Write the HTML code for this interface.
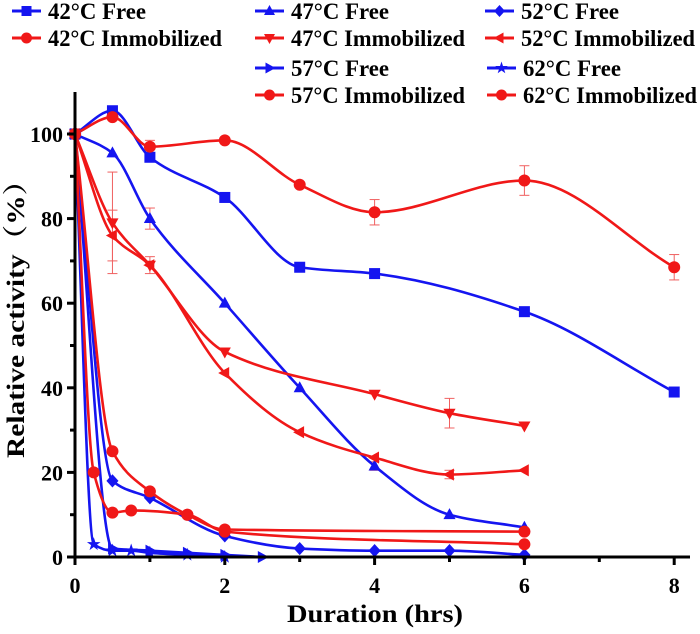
<!DOCTYPE html>
<html><head><meta charset="utf-8"><style>
body{margin:0;background:#fff}
svg{display:block}
text{font-family:"Liberation Serif","Noto Serif CJK SC",serif;font-weight:bold}
</style></head><body>
<svg id="c" width="700" height="634" viewBox="0 0 700 634"></svg>
<script>
const xTicks=[0,2,4,6,8];
const yTicks=[0,20,40,60,80,100];
const x42=[0,0.5,1,2,3,4,6,8];
const f42=[100,105.5,94.5,85,68.5,67,58,39];
const i42=[100,104,97,98.5,88,81.5,89,68.5];
const x47f=[0,0.5,1,2,3,4,5,6];
const f47=[100,95.5,80,60,40,21.5,10,7];
const x47i=[0,0.5,1,2,4,5,6];
const i47=[100,79,69,48.5,38.5,34,31];
const x52=[0,0.5,1,2,3,4,5,6];
const f52=[100,18,14,5,2,1.5,1.5,0.5];
const i52=[100,76,69,43.5,29.5,23.5,19.5,20.5];
const x57f=[0,0.5,1,1.5,2,2.5];
const f57=[100,2,1.5,1,0.5,0];
const x57i=[0,0.5,1,1.5,2,6];
const i57=[100,25,15.5,10,6.5,6];
const x62f=[0,0.25,0.5,0.75,1,1.5,2];
const f62=[100,3,1.5,1.5,1,0.5,0];
const x62i=[0,0.25,0.5,0.75,1.5,2,6];
const i62=[100,20,10.5,11,10,6,3];
const NS="http://www.w3.org/2000/svg";
const svg=document.getElementById('c');
const X=v=>75+v*74.9, Y=v=>557-v*4.23;
function el(t,a,p){const e=document.createElementNS(NS,t);for(const k in a)e.setAttribute(k,a[k]);(p||svg).appendChild(e);return e;}
function spline(xs,ys){const P=xs.map((x,i)=>[X(x),Y(ys[i])]);const n=P.length;
const d=[],m=[];for(let i=0;i<n-1;i++)d.push((P[i+1][1]-P[i][1])/(P[i+1][0]-P[i][0]));
for(let i=0;i<n;i++){if(i===0)m.push(d[0]);else if(i===n-1)m.push(d[n-2]);else if(d[i-1]*d[i]<=0)m.push(0);else{const h0=P[i][0]-P[i-1][0],h1=P[i+1][0]-P[i][0];m.push(3*(h0+h1)/((2*h1+h0)/d[i-1]+(h1+2*h0)/d[i]));}}
let s=`M${P[0][0]},${P[0][1]}`;
for(let i=0;i<n-1;i++){const h=(P[i+1][0]-P[i][0])/3;s+=` C${P[i][0]+h},${P[i][1]+m[i]*h} ${P[i+1][0]-h},${P[i+1][1]-m[i+1]*h} ${P[i+1][0]},${P[i+1][1]}`;}return s;}
function marker(g,type,cx,cy,col,s){s=s||6;let pts;
if(type==='sq'){el('rect',{x:cx-s,y:cy-s,width:2*s,height:2*s,fill:col},g);return;}
if(type==='ci'){el('circle',{cx,cy,r:s+0.5,fill:col},g);return;}
const m={up:[[0,-1.2],[1.1,0.8],[-1.1,0.8]],dn:[[0,1.2],[1.1,-0.8],[-1.1,-0.8]],dia:[[0,-1.2],[1.1,0],[0,1.2],[-1.1,0]],lt:[[-1.2,0],[0.8,-1.1],[0.8,1.1]],rt:[[1.2,0],[-0.8,-1.1],[-0.8,1.1]]};
if(type==='st'){pts=[];for(let k=0;k<10;k++){const r=k%2?0.5*s:1.3*s,a=-Math.PI/2+k*Math.PI/5;pts.push([cx+r*Math.cos(a),cy+r*Math.sin(a)]);}}
else pts=m[type].map(p=>[cx+p[0]*s,cy+p[1]*s]);
el('polygon',{points:pts.map(p=>p.join(',')).join(' '),fill:col},g);}
const B='#1515f0',R='#f01818';
const series=[
['series-42-free',x42,f42,B,'sq'],['series-42-immobilized',x42,i42,R,'ci'],
['series-47-free',x47f,f47,B,'up'],['series-47-immobilized',x47i,i47,R,'dn'],
['series-52-free',x52,f52,B,'dia'],['series-52-immobilized',x52,i52,R,'lt'],
['series-57-free',x57f,f57,B,'rt'],['series-57-immobilized',x57i,i57,R,'ci'],
['series-62-free',x62f,f62,B,'st'],['series-62-immobilized',x62i,i62,R,'ci']];
const errs=[[x42,i42,[0,0,1.5,0,0,3,3.5,3]],[x47i,i47,[0,12,0,0,0,3.5,0]],[x52,i52,[0,6,2,0,0,0,1,0]],[x47f,f47,[0,0,2.5,0,0,1,0,0]]];
const eg=el('g',{stroke:'#f06060','stroke-width':1,});
errs.forEach(([xs,ys,es])=>es.forEach((e,i)=>{if(!e)return;const x=X(xs[i]);
el('line',{x1:x,x2:x,y1:Y(ys[i]+e),y2:Y(ys[i]-e)},eg);
el('line',{x1:x-5,x2:x+5,y1:Y(ys[i]+e),y2:Y(ys[i]+e)},eg);
el('line',{x1:x-5,x2:x+5,y1:Y(ys[i]-e),y2:Y(ys[i]-e)},eg);}));
series.forEach(([n,xs,ys,c,m])=>{const g=el('g',{});


el('path',{d:spline(xs,ys),fill:'none',stroke:c,'stroke-width':2.6},g);
xs.forEach((x,i)=>marker(g,m,X(x),Y(ys[i]),c,5.5));});
const ax=el('g',{stroke:'#000','stroke-width':3,});
el('line',{x1:75,x2:75,y1:92,y2:559},ax);
el('line',{x1:73,x2:690,y1:557,y2:557},ax);
xTicks.forEach(t=>{el('line',{x1:X(t),x2:X(t),y1:557,y2:565},ax);
const tx=el('text',{x:X(t),y:593,'text-anchor':'middle','font-size':22});tx.textContent=t;
});
for(let t=1;t<8;t+=2)el('line',{x1:X(t),x2:X(t),y1:557,y2:562},ax);
yTicks.forEach(t=>{el('line',{x1:67,x2:75,y1:Y(t),y2:Y(t)},ax);
const tx=el('text',{x:63,y:Y(t)+8,'text-anchor':'end','font-size':22});tx.textContent=t;
});
for(let t=10;t<110;t+=20)el('line',{x1:70,x2:75,y1:Y(t),y2:Y(t)},ax);
const xt=el('text',{x:375,y:622,'text-anchor':'middle','font-size':25,textLength:176,lengthAdjust:'spacingAndGlyphs'});xt.textContent='Duration (hrs)';

const yt=el('text',{x:0,y:0,'text-anchor':'middle','font-size':25,textLength:292,lengthAdjust:'spacingAndGlyphs',transform:'translate(24,312) rotate(-90)'});yt.textContent='Relative activity（%）';

const leg=[[12,11,'42°C Free',B,'sq',98],[12,38,'42°C Immobilized',R,'ci',174],[255,11,'47°C Free',B,'up',98],[255,38,'47°C Immobilized',R,'dn',174],
[485,11,'52°C Free',B,'dia',98],[485,38,'52°C Immobilized',R,'lt',174],[255,68,'57°C Free',B,'rt',98],[255,95,'57°C Immobilized',R,'ci',174],[487,68,'62°C Free',B,'st',98],[487,95,'62°C Immobilized',R,'ci',174]];
leg.forEach(([x,y,t,c,m,w])=>{const g=el('g',{});


el('line',{x1:x,x2:x+29,y1:y,y2:y,stroke:c,'stroke-width':3},g);marker(g,m,x+14.5,y,c,5);
const tx=el('text',{x:x+36,y:y+8,'font-size':23,textLength:w,lengthAdjust:'spacingAndGlyphs'},g);tx.textContent=t;});
</script>
</body></html>
